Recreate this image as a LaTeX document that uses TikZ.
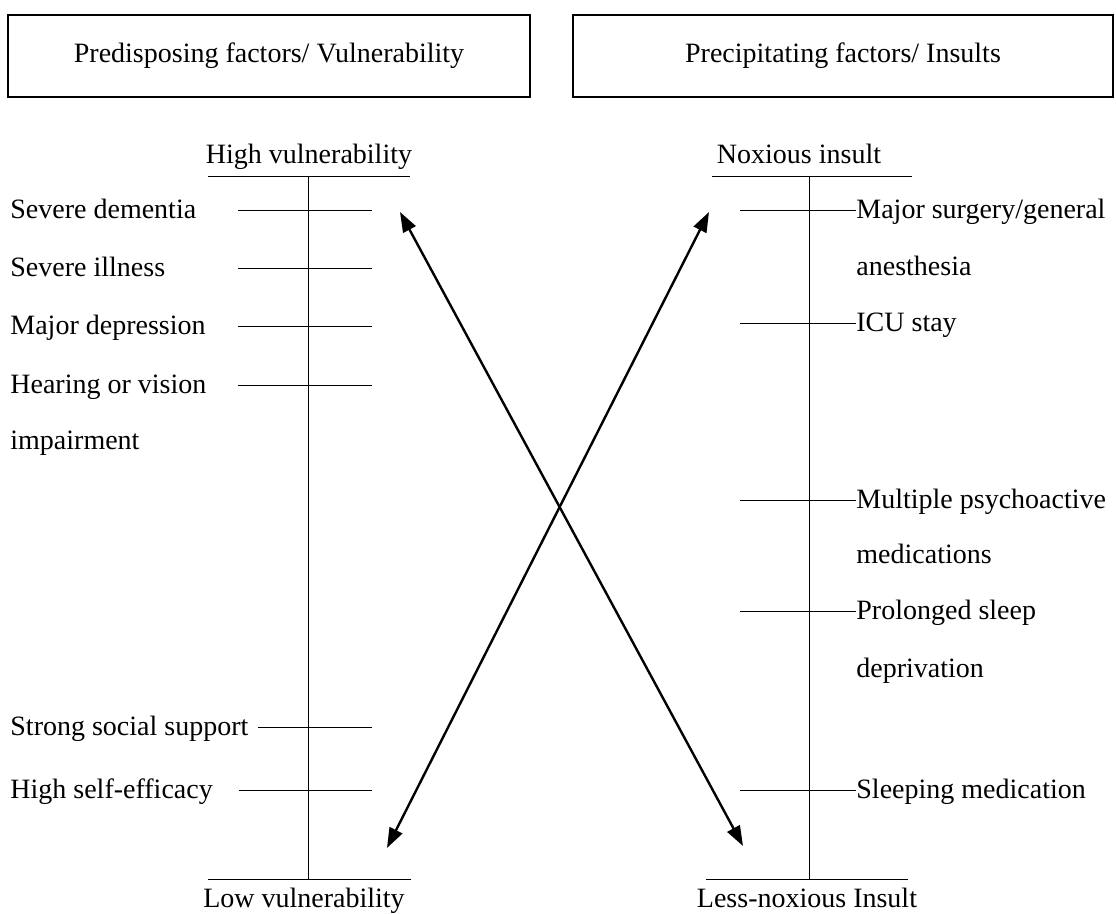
\documentclass[tikz,border=0pt]{standalone}
\usepackage{fontspec}
\setmainfont{Liberation Serif}
\usetikzlibrary{positioning,arrows.meta}

\begin{document}
\begin{tikzpicture}[x=0.5pt,y=-0.5pt,font=\fontsize{14}{17}\selectfont,
    titlebox/.style={draw,line width=0.6pt,minimum height=41pt,inner sep=0pt},
    factor/.style={anchor=base west,inner sep=0pt,yshift=-4pt},
    axislabel/.style={anchor=base,inner sep=0pt},
    axisline/.style={line width=0.5pt},
    cross/.style={line width=1.2pt,{Triangle[length=10pt,width=7pt]}-{Triangle[length=10pt,width=7pt]}}]
  \useasboundingbox (0,0) rectangle (1116,914);
  \node[titlebox,minimum width=261pt] (pre) at (269,56) {Predisposing factors/ Vulnerability};
  \node[titlebox,minimum width=270pt] (prec) at (843,56) {Precipitating factors/ Insults};

  \coordinate (lt1) at (208,177); \coordinate (lt2) at (410,177);
  \coordinate (lb1) at (208,880); \coordinate (lb2) at (411,880);
  \coordinate (ltop) at (308,177); \coordinate (lbot) at (308,880);
  \node[axislabel] (highv) at (309,164) {High vulnerability};
  \node[axislabel] (lowv) at (304,908) {Low vulnerability};
  \draw[axisline] (lt1) -- (lt2);
  \draw[axisline] (lb1) -- (lb2);
  \draw[axisline] (ltop) -- (lbot);

  \coordinate (rt1) at (712,177); \coordinate (rt2) at (912,177);
  \coordinate (rb1) at (706,880); \coordinate (rb2) at (908,880);
  \coordinate (rtop) at (809,177); \coordinate (rbot) at (809,880);
  \node[axislabel] (noxious) at (799,164) {Noxious insult};
  \node[axislabel] (lessnox) at (807,908) {Less-noxious Insult};
  \draw[axisline] (rt1) -- (rt2);
  \draw[axisline] (rb1) -- (rb2);
  \draw[axisline] (rtop) -- (rbot);

  \foreach \name/\y/\xa/\txt in {dem/211/238/Severe dementia,ill/269/238/Severe illness,
      dep/327/238/Major depression,hear/386/238/Hearing or vision,
      soc/728/258/Strong social support,eff/791/239/High self-efficacy}{
    \node[factor] (\name) at (10,\y) {\txt};
    \coordinate (\name a) at (\xa,\y);
    \coordinate (\name b) at (372,\y);
    \draw[axisline] (\name a) -- (\name b);
  }
  \node[factor] (imp) at (10,442) {impairment};

  \foreach \name/\y/\txt in {surg/211/{Major surgery/general},icu/324/ICU stay,
      psy/501/Multiple psychoactive,sleep/612/Prolonged sleep,smed/791/Sleeping medication}{
    \node[factor] (\name) at (856,\y) {\txt};
    \coordinate (\name a) at (740,\y);
    \draw[axisline] (\name a) -- (\name.west |- \name a);
  }
  \node[factor] (anes) at (856,268) {anesthesia};
  \node[factor] (meds) at (856,556) {medications};
  \node[factor] (depr) at (856,670) {deprivation};

  \coordinate (hi) at (400,212);
  \coordinate (less) at (743,846);
  \coordinate (nox) at (709,212);
  \coordinate (low) at (387,848);
  \draw[cross] (hi) -- (less);
  \draw[cross] (nox) -- (low);
\end{tikzpicture}
\end{document}
